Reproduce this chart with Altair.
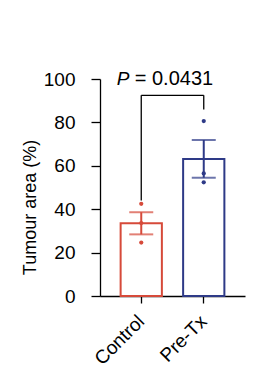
import altair as alt
import pandas as pd

groups = ["Control", "Pre-Tx"]
means = [33.5, 63.1]
sem_low = [28.4, 54.5]
sem_high = [38.6, 71.9]
colors = ["#d64a3a", "#2e3a87"]
pts_group = ["Control", "Control", "Control", "Pre-Tx", "Pre-Tx", "Pre-Tx"]
pts_value = [42.5, 33.6, 24.6, 80.6, 56.5, 52.4]

bracket_y = 92.5
bracket_left_end = 44
bracket_right_end = 86
p_label_y = 97.2

bars = pd.DataFrame({"g": groups, "m": means, "lo": sem_low, "hi": sem_high})
pts = pd.DataFrame({"g": pts_group, "v": pts_value})

FONT = "Liberation Sans"
FS = 19
xscale = alt.Scale(domain=groups, paddingInner=0.34, paddingOuter=0.33)
yscale = alt.Scale(domain=[0, 100], nice=False)
cscale = alt.Scale(domain=groups, range=colors)

X = alt.X("g:N", scale=xscale, sort=groups,
          axis=alt.Axis(title=None, labelAngle=-45, labelAlign="right", labelBaseline="middle",
                        labelFontSize=FS, labelFont=FONT, labelColor="black",
                        tickSize=7, tickColor="black", tickWidth=1.3,
                        domainColor="black", domainWidth=1.3, labelPadding=15))
Y = alt.Y("m:Q", scale=yscale,
          axis=alt.Axis(title="Tumour area (%)", titleFontSize=18, titleFont=FONT,
                        titleFontWeight="normal", titleColor="black", titlePadding=4,
                        titleY=128,
                        values=[0, 20, 40, 60, 80, 100], labelFontSize=FS, labelFont=FONT,
                        labelColor="black", tickSize=9, tickColor="black", tickWidth=1.3,
                        domainColor="black", domainWidth=1.3, labelPadding=16, grid=False))

bar = alt.Chart(bars).mark_bar(fill="white", strokeWidth=2).encode(
    x=X, y=Y, stroke=alt.Stroke("g:N", scale=cscale, legend=None))

err = alt.Chart(bars).mark_rule(strokeWidth=2).encode(
    x=alt.X("g:N", scale=xscale), y=alt.Y("lo:Q", scale=yscale), y2="hi:Q",
    color=alt.Color("g:N", scale=cscale, legend=None))

cap_hi = alt.Chart(bars).mark_tick(orient="horizontal", size=24, thickness=2).encode(
    x=alt.X("g:N", scale=xscale), y=alt.Y("hi:Q", scale=yscale),
    color=alt.Color("g:N", scale=cscale, legend=None))
cap_lo = alt.Chart(bars).mark_tick(orient="horizontal", size=24, thickness=2).encode(
    x=alt.X("g:N", scale=xscale), y=alt.Y("lo:Q", scale=yscale),
    color=alt.Color("g:N", scale=cscale, legend=None))

dots = alt.Chart(pts).mark_circle(size=18, opacity=1).encode(
    x=alt.X("g:N", scale=xscale), y=alt.Y("v:Q", scale=yscale),
    color=alt.Color("g:N", scale=cscale, legend=None))

br_h = pd.DataFrame({"a": [groups[0]], "b": [groups[1]], "y": [bracket_y]})
br_v = pd.DataFrame({"g": groups, "y1": [bracket_left_end, bracket_right_end], "y2": [bracket_y, bracket_y]})

bh = alt.Chart(br_h).mark_rule(color="black", strokeWidth=1.3).encode(
    x=alt.X("a:N", scale=xscale), x2="b:N", y=alt.Y("y:Q", scale=yscale))
bv = alt.Chart(br_v).mark_rule(color="black", strokeWidth=1.3).encode(
    x=alt.X("g:N", scale=xscale), y=alt.Y("y1:Q", scale=yscale), y2="y2:Q")

lab = pd.DataFrame({"g": [groups[0]], "y": [p_label_y]})
tP = alt.Chart(lab).mark_text(text="P", fontStyle="italic", font=FONT, fontSize=FS,
                              align="left", baseline="alphabetic", dx=-24.5, color="black").encode(
    x=alt.X("g:N", scale=xscale), y=alt.Y("y:Q", scale=yscale))
tV = alt.Chart(lab).mark_text(text="= 0.0431", font=FONT, fontSize=20,
                              align="left", baseline="alphabetic", dx=-6.5, color="black").encode(
    x=alt.X("g:N", scale=xscale), y=alt.Y("y:Q", scale=yscale))

chart = alt.layer(bar, err, cap_hi, cap_lo, dots, bh, bv, tP, tV).properties(
    width=145, height=217,
    autosize=alt.AutoSizeParams(type="none"),
    padding={"left": 100, "top": 79, "right": 9, "bottom": 89},
    background="white",
).configure_view(stroke=None)

chart.save("out.html", embed_options={"renderer": "svg", "actions": False})
